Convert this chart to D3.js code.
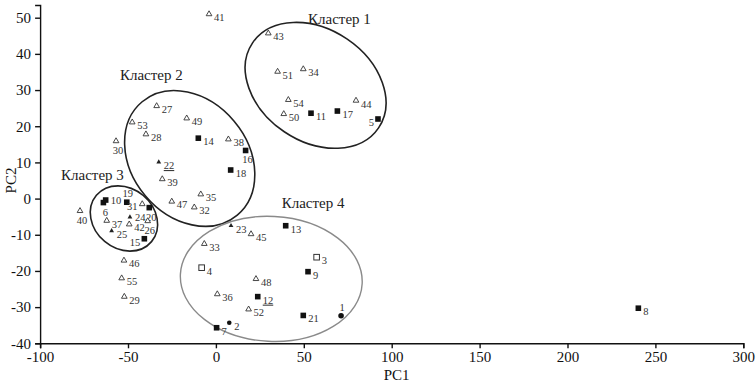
<!DOCTYPE html>
<html><head><meta charset="utf-8">
<script src="https://cdn.jsdelivr.net/npm/d3@7"></script>
<style>
body{margin:0;background:#fff;}
svg text{font-family:"Liberation Serif","Tinos","Times New Roman","DejaVu Serif",serif !important;}
</style></head>
<body><svg id="chart" width="756" height="384"></svg>
<script>
// ---- data ----
const ids = [1,2,3,4,5,6,7,8,9,10,11,12,13,14,15,16,17,18,19,20,21,22,23,24,25,26,27,28,29,30,31,32,33,34,35,36,37,38,39,40,41,42,43,44,45,46,47,48,49,50,51,52,53,54,55];
const pc1 = [71.2,7.6,57.3,-8.1,92.2,-64.0,0.4,240.3,52.4,-62.7,54.1,23.8,39.7,-10.0,-40.7,16.9,69.1,8.4,-50.7,-37.9,49.7,-32.5,8.6,-48.9,-59.3,-38.8,-33.7,-39.8,-52.1,-56.8,-41.9,-12.3,-6.6,49.7,-8.6,0.8,-62.1,7.1,-30.5,-77.3,-3.9,-49.3,29.8,79.7,20.0,-52.3,-25.1,22.8,-16.6,38.6,35.1,18.6,-47.6,41.2,-53.6];
const pc2 = [-32.4,-34.3,-16.2,-19.1,22.0,-1.1,-35.7,-30.3,-20.2,-0.4,23.6,-27.1,-7.5,16.7,-11.1,13.3,24.2,7.9,-1.0,-2.5,-32.3,10.1,-7.5,-5.1,-8.9,-6.2,25.6,17.8,-27.1,15.9,-1.5,-2.4,-12.5,35.8,1.2,-26.4,-6.1,16.4,5.4,-3.4,51.0,-7.1,45.7,27.1,-9.8,-17.1,-0.8,-22.2,22.2,23.4,35.1,-30.6,21.1,27.3,-22.0];
const markerType = ["dot","dot","osq","osq","sq","sq","sq","sq","sq","sq","sq","sq","sq","sq","sq","sq","sq","sq","sq","sq","sq","stri","stri","stri","stri","tri","tri","tri","tri","tri","tri","tri","tri","tri","tri","tri","tri","tri","tri","tri","tri","tri","tri","tri","tri","tri","tri","tri","tri","tri","tri","tri","tri","tri","tri"];
const labelSide = ["a","r","r","r","l","b","r","r","r","ru","r","r","r","r","l","b","r","r","a","b","r","r","r","ru","r","b","r","r","r","b","bl","r","r","r","r","r","r","r","r","b","r","r","r","r","r","r","r","r","r","r","r","r","r","r","r"];
const underlined = [12,22];
const clusterNames = ["Кластер 1","Кластер 2","Кластер 3","Кластер 4"];
const clusterLabelX = [52.4,-54.6,-88.1,37.4];
const clusterLabelY = [49.7,34.2,6.6,-1.2];
const clusterCX = [56.7,-14.9,-52.3,31.5];
const clusterCY = [31.3,11.1,-5.5,-22.2];
const xTicks = [-100,-50,0,50,100,150,200,250,300];
const yTicks = [-40,-30,-20,-10,0,10,20,30,40,50];
const xTitle = "PC1", yTitle = "PC2";

// ---- drawing ----
const FONT = '"Liberation Serif","Tinos","Times New Roman","DejaVu Serif",serif';
const svg = d3.select("#chart");
const x = d3.scaleLinear().domain([-100,300]).range([40.1,743.3]);
const y = d3.scaleLinear().domain([-40,50]).range([343.3,17.7]);
const yAxisScale = y.copy().domain([-40,53.5]).range([343.3, y(53.5)]);

// ellipses (pixel semi-axes, rotation in degrees)
const ell = [
  {a:76,b:56,rot:34,stroke:"#222",w:1.6},
  {a:74,b:58,rot:50,stroke:"#222",w:1.6},
  {a:36,b:30,rot:40,stroke:"#222",w:1.6},
  {a:91,b:62.5,rot:3,stroke:"#8a8a8a",w:1.4}
];
ell.forEach((e,i)=>{
  svg.append("ellipse")
    .attr("transform",`translate(${x(clusterCX[i])},${y(clusterCY[i])}) rotate(${e.rot})`)
    .attr("rx",e.a).attr("ry",e.b)
    .attr("fill","none").attr("stroke",e.stroke).attr("stroke-width",e.w);
});

// axes
const xAxis = svg.append("g").attr("transform",`translate(0,${y(-40)})`)
  .call(d3.axisBottom(x).tickValues(xTicks).tickSizeOuter(0).tickSize(5).tickFormat(d=>String(d)));
const yAxis = svg.append("g").attr("transform",`translate(${x(-100)},0)`)
  .call(d3.axisLeft(yAxisScale).tickValues(yTicks).tickSizeOuter(0).tickSize(5).tickFormat(d=>String(d)));
[xAxis,yAxis].forEach(g=>{
  g.attr("font-family",FONT).attr("font-size",15);
  g.select(".domain").attr("stroke","#111").attr("stroke-width",1.4);
  g.selectAll(".tick line").attr("stroke","#111").attr("stroke-width",1.4);
  g.selectAll(".tick text").attr("fill","#111");
});
yAxis.selectAll(".tick text").attr("dx","-1px");

svg.append("text").attr("x",x(100)+5).attr("y",380).attr("text-anchor","middle")
  .attr("font-family",FONT).attr("font-size",15).attr("fill","#111").text(xTitle);
svg.append("text").attr("transform",`translate(16,${y(5)}) rotate(-90)`).attr("text-anchor","middle")
  .attr("font-family",FONT).attr("font-size",15).attr("fill","#111").text(yTitle);

// cluster labels
clusterNames.forEach((n,i)=>{
  svg.append("text").attr("x",x(clusterLabelX[i])).attr("y",y(clusterLabelY[i])+5)
    .attr("font-family",FONT).attr("font-size",15).attr("fill","#222").text(n);
});

// points
const pts = ids.map((id,i)=>({id,px:pc1[i],py:pc2[i],m:markerType[i],side:labelSide[i]}));
const g = svg.append("g");
const tri = d3.symbol().type(d3.symbolTriangle);
pts.forEach(p=>{
  const cx = x(p.px), cy = y(p.py);
  if(p.m==="tri"){
    g.append("path").attr("d",tri.size(14)()).attr("transform",`translate(${cx},${cy})`)
      .attr("fill","#fff").attr("stroke","#333").attr("stroke-width",0.9);
  } else if(p.m==="stri"){
    g.append("path").attr("d",tri.size(10)()).attr("transform",`translate(${cx},${cy})`)
      .attr("fill","#222");
  } else if(p.m==="sq"){
    g.append("rect").attr("x",cx-2.8).attr("y",cy-2.8).attr("width",5.6).attr("height",5.6).attr("fill","#111");
  } else if(p.m==="osq"){
    g.append("rect").attr("x",cx-2.8).attr("y",cy-2.8).attr("width",5.6).attr("height",5.6)
      .attr("fill","#fff").attr("stroke","#333").attr("stroke-width",1);
  } else if(p.m==="dot"){
    g.append("circle").attr("cx",cx).attr("cy",cy).attr("r",p.id===1?2.8:2.3).attr("fill","#111");
  }
  let tx=cx+5, ty=cy+7, anchor="start";
  if(p.side==="l"){tx=cx-4; ty=cy+7; anchor="end";}
  else if(p.side==="b"){tx=cx+2; ty=cy+13; anchor="middle";}
  else if(p.side==="bl"){tx=cx-10; ty=cy+6; anchor="middle";}
  else if(p.side==="a"){tx=cx+1; ty=cy-5; anchor="middle";}
  else if(p.side==="ru"){tx=cx+5; ty=cy+4;}
  const t = g.append("text").attr("x",tx).attr("y",ty).attr("text-anchor",anchor)
    .attr("font-family",FONT).attr("font-size",10.5).attr("fill","#333").text(p.id);
  if(underlined.includes(p.id)) t.attr("text-decoration","underline");
});
</script>
</body></html>
